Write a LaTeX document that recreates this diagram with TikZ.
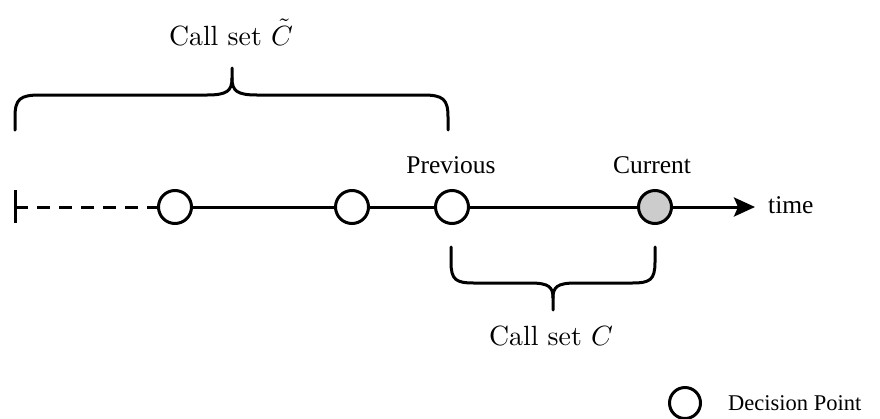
\documentclass[tikz,border=0pt]{standalone}
\usepackage{fontspec}
\newfontfamily\tnr{Liberation Serif}
\usetikzlibrary{arrows.meta}
\newcommand{\bigcs}[1]{\scalebox{2.78}{\fontsize{10}{12}\selectfont #1}}
\tikzset{
  dp/.style={circle, draw=black, line width=3pt, minimum size=33pt, inner sep=0pt, fill=white},
  cur/.style={dp, fill=black!20},
  lbl/.style={font=\tnr\fontsize{25.5}{30}\selectfont, inner sep=0pt},
  leglbl/.style={font=\tnr\fontsize{22.5}{27}\selectfont, inner sep=0pt},
  cs/.style={inner sep=0pt},
  tl/.style={line width=3pt},
  br/.style={line width=3pt, line cap=round, line join=round},
}
\begin{document}
\begin{tikzpicture}[x=1pt,y=-1pt]
\useasboundingbox (0,0) rectangle (880,418);
% timeline
\coordinate (tick) at (15,207);
\coordinate (tend) at (755,207);
\node[dp] (c1) at (175,207) {};
\node[dp] (c2) at (352,207) {};
\node[dp] (c3) at (452,207) {};
\node[cur] (c4) at (655,207) {};
\draw[tl] (15,190) -- (15,223);
\draw[tl, dash pattern=on 13pt off 9pt] (tick) -- (c1);
\draw[tl] (c1) -- (c2);
\draw[tl] (c2) -- (c3);
\draw[tl] (c3) -- (c4);
\draw[tl, -{Stealth[length=21pt, width=19pt, inset=4pt]}] (c4) -- (tend);
\node[lbl, anchor=base west] (time) at (768,213) {time};
\node[lbl, anchor=base] (prev) at (451,173) {Previous};
\node[lbl, anchor=base] (curr) at (652,173) {Current};
% top brace
\draw[br] (15,130) -- (15,117) .. controls (15,99) and (20,95) .. (40,95)
  -- (207,95) .. controls (227,95) and (232,91) .. (232,78) -- (232,68);
\draw[br] (448,130) -- (448,117) .. controls (448,99) and (443,95) .. (423,95)
  -- (257,95) .. controls (237,95) and (232,91) .. (232,78);
\node[cs, anchor=base] (ctil) at (231,45) {\bigcs{Call set $\tilde{C}$}};
% bottom brace
\draw[br] (451,247) -- (451,262) .. controls (451,280) and (456,283) .. (474,283)
  -- (530,283) .. controls (549,283) and (553,287) .. (553,298) -- (553,310);
\draw[br] (655,247) -- (655,262) .. controls (655,280) and (650,283) .. (632,283)
  -- (576,283) .. controls (557,283) and (553,287) .. (553,298);
\node[cs, anchor=base] (cset) at (551,345) {\bigcs{Call set $C$}};
% legend
\node[dp, minimum size=31pt] (leg) at (685,403) {};
\node[leglbl, anchor=west] (legt) at (728,403) {Decision Point};
\end{tikzpicture}
\end{document}
